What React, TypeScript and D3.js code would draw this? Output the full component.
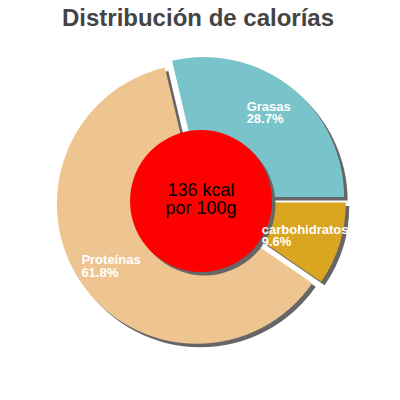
import React from "react";
import * as d3 from "d3";

const categories = ["Grasas", "carbohidratos", "Proteínas"];
const percents = [28.7, 9.6, 61.8];
const colors = ["#79c3cb", "#daa521", "#eec591"];
const title = "Distribución de calorías";
const centerLines = ["136 kcal", "por 100g"];

const W = 400;
const H = 400;
const cx = 201;
const cy = 201;
const R = 140;
const explode = 5;
const shadow = 3.5;
const innerR = 71;
const labelR = 109;
const labelFont = 13;

function measure(text: string, font: string) {
  const c = document.createElement("canvas").getContext("2d");
  if (!c) return text.length * 7;
  c.font = font;
  return c.measureText(text).width;
}

export default function App() {
  const total = d3.sum(percents);
  const start = Math.PI / 2 - (percents[0] / total) * 2 * Math.PI;
  const pie = d3
    .pie<number>()
    .sort(null)
    .startAngle(start)
    .endAngle(start + 2 * Math.PI);
  const arcs = pie(percents);
  const arc = d3.arc<d3.PieArcDatum<number>>().innerRadius(0).outerRadius(R);
  const labelArc = d3
    .arc<d3.PieArcDatum<number>>()
    .innerRadius(labelR)
    .outerRadius(labelR);
  const font = `bold ${labelFont}px "Liberation Sans", Arial, sans-serif`;

  return (
    <svg
      width={W}
      height={H}
      style={{ position: "absolute", left: 0, top: 0, background: "#fff" }}
      fontFamily='"Liberation Sans", Arial, sans-serif'
    >
      <text
        x={198}
        y={25.5}
        textAnchor="middle"
        fontSize={24}
        fontWeight="bold"
        fill="#444444"
      >
        {title}
      </text>
      {arcs.map((a, i) => {
        const mid = (a.startAngle + a.endAngle) / 2;
        const dx = explode * Math.sin(mid);
        const dy = -explode * Math.cos(mid);
        return (
          <g key={"s" + i} transform={`translate(${cx + dx},${cy + dy})`}>
            <path d={arc(a) || ""} fill="#666666" transform={`translate(${shadow},${shadow})`} />
            <path d={arc(a) || ""} fill={colors[i]} />
          </g>
        );
      })}
      <circle cx={cx + shadow} cy={cy + shadow} r={innerR} fill="#666666" />
      <circle cx={cx} cy={cy} r={innerR} fill="#ff0000" />
      <text textAnchor="middle" fontSize={18} fill="#000">
        <tspan x={cx} y={196}>{centerLines[0]}</tspan>
        <tspan x={cx} y={214}>{centerLines[1]}</tspan>
      </text>
      {arcs.map((a, i) => {
        const mid = (a.startAngle + a.endAngle) / 2;
        const dy = -explode * Math.cos(mid);
        const [lx, ly] = labelArc.centroid(a);
        const line2 = percents[i].toFixed(1) + "%";
        const w = Math.max(measure(categories[i], font), measure(line2, font));
        const x0 = cx + lx - w / 2;
        const y0 = cy + dy + ly;
        return (
          <text key={"l" + i} fontSize={labelFont} fontWeight="bold" fill="#ffffff">
            <tspan x={x0} y={y0 - 1}>{categories[i]}</tspan>
            <tspan x={x0} y={y0 + 11.3}>{line2}</tspan>
          </text>
        );
      })}
    </svg>
  );
}
